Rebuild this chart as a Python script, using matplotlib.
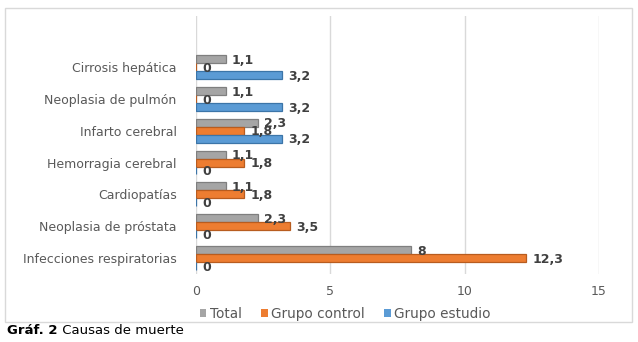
import matplotlib
matplotlib.use("Agg")
import matplotlib.pyplot as plt
from matplotlib.patches import Rectangle
import numpy as np

# Causes of death, listed bottom to top
categories = [
    "Infecciones respiratorias",
    "Neoplasia de próstata",
    "Cardiopatías",
    "Hemorragia cerebral",
    "Infarto cerebral",
    "Neoplasia de pulmón",
    "Cirrosis hepática",
]
total = [8, 2.3, 1.1, 1.1, 2.3, 1.1, 1.1]
grupo_control = [12.3, 3.5, 1.8, 1.8, 1.8, 0, 0]
grupo_estudio = [0, 0, 0, 0, 3.2, 3.2, 3.2]

series = [
    ("Total", total, "#a5a5a5", "#7f7f7f", 0.25),
    ("Grupo control", grupo_control, "#ed7d31", "#b85c1f", 0.0),
    ("Grupo estudio", grupo_estudio, "#5b9bd5", "#3c75a8", -0.25),
]

plt.rcParams["font.family"] = ["DejaVu Sans"]

fig = plt.figure(figsize=(6.38, 3.42), dpi=100)

# chart frame
fig.patches.append(Rectangle((5 / 638, 1 - 322 / 342), 627 / 638, 314 / 342,
                             transform=fig.transFigure, fill=False,
                             edgecolor="#d9d9d9", linewidth=1.0))

ax = fig.add_axes([196 / 638, 1 - 274 / 342, 403 / 638, 258 / 342])

y = np.arange(len(categories))
bar_h = 0.25

for name, vals, color, edge, off in series:
    ax.barh(y + off, vals, height=bar_h, color=color, edgecolor=edge,
            linewidth=0.9, label=name, zorder=3)
    for yi, v in zip(y, vals):
        txt = f"{v:g}".replace(".", ",")
        ax.text(v + 0.22, yi + off - 0.04, txt, ha="left", va="center",
                fontsize=9, fontweight="bold", color="#404040", zorder=4)

ax.set_xlim(0, 15)
ax.set_ylim(-0.5, 7.6)
ax.set_xticks([0, 5, 10, 15])
ax.set_xticklabels(["0", "5", "10", "15"])
ax.set_yticks(y)
ax.set_yticklabels(categories)
ax.tick_params(axis="both", length=0, labelsize=9, colors="#595959")
ax.tick_params(axis="x", pad=8)
ax.tick_params(axis="y", pad=14)

ax.grid(axis="x", color="#d9d9d9", linewidth=1.0, zorder=0)
for s in ax.spines.values():
    s.set_visible(False)

handles = [Rectangle((0, 0), 1, 1, facecolor=c, edgecolor="none")
           for _, _, c, _, _ in series]
labels = [n for n, _, _, _, _ in series]
leg = ax.legend(handles, labels, loc="upper center",
                bbox_to_anchor=(0.37, -0.105), ncol=3,
                frameon=False, fontsize=9.8, handlelength=0.5, handleheight=0.5,
                handletextpad=0.25, columnspacing=1.4, borderaxespad=0)
for t in leg.get_texts():
    t.set_color("#595959")

caption = fig.text(7 / 638, 1 - 331 / 342, "Gráf. 2", ha="left", va="center",
                   fontsize=9.5, fontweight="bold", color="#000000")
ax.annotate(" Causas de muerte", xy=(1, 0.5), xycoords=caption,
            ha="left", va="center", fontsize=9.5, color="#000000",
            annotation_clip=False)

fig.savefig("out.png", dpi=100)
